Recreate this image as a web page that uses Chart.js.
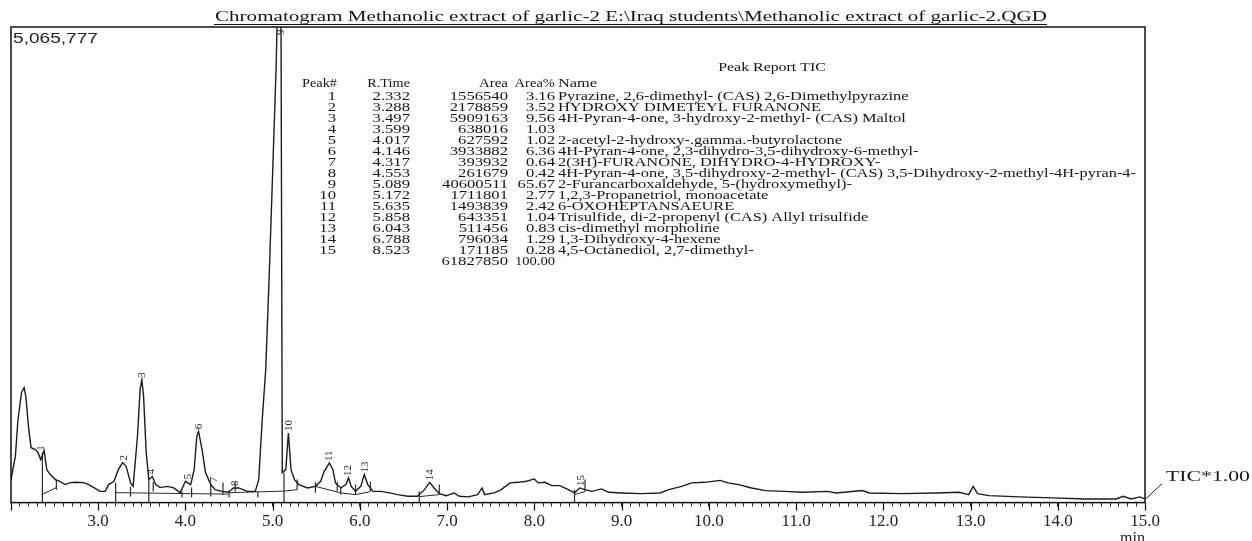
<!DOCTYPE html>
<html>
<head>
<meta charset="utf-8">
<title>Chromatogram Methanolic extract of garlic-2</title>
<script src="https://cdn.jsdelivr.net/npm/chart.js@4.4.1/dist/chart.umd.min.js"></script>
<style>
  html, body { margin: 0; padding: 0; background: #fff; }
  #wrap { width: 1252px; height: 541px; }
</style>
</head>
<body>
<div id="wrap"><canvas id="ticChart" width="1252" height="541"></canvas></div>
<script>
// -----------------------
// TIC trace
// -----------------------

// Retention time in minutes
const traceTime = [
  2.00, 2.05, 2.08, 2.12, 2.15, 2.17, 2.20, 2.23, 2.28, 2.31, 2.34, 2.38, 2.41, 2.45, 2.51, 2.56, 2.62, 2.68, 2.75, 2.83, 2.89, 2.95,
  3.02, 3.08, 3.12, 3.18, 3.23, 3.28, 3.32, 3.37, 3.40, 3.45, 3.48, 3.50, 3.52, 3.55, 3.58, 3.62, 3.66, 3.71, 3.79, 3.86, 3.94,
  4.00, 4.06, 4.10, 4.13, 4.15, 4.19, 4.23, 4.29, 4.34, 4.42, 4.49, 4.55, 4.61, 4.71, 4.80, 4.84, 4.88, 4.92, 4.96,
  5.00, 5.04, 5.09, 5.11, 5.15, 5.18, 5.21, 5.25, 5.30, 5.40, 5.49, 5.55, 5.59, 5.65, 5.69, 5.72, 5.78, 5.84, 5.87, 5.90, 5.95,
  6.01, 6.05, 6.09, 6.15, 6.24, 6.34, 6.43, 6.55, 6.66, 6.74, 6.80, 6.85, 6.91, 6.99,
  7.08, 7.14, 7.24, 7.35, 7.40, 7.43, 7.54, 7.62, 7.72, 7.81, 7.91,
  8.00, 8.04, 8.12, 8.20, 8.29, 8.39, 8.46, 8.52, 8.58, 8.66, 8.77, 8.85,
  9.00, 9.23, 9.44, 9.54, 9.69, 9.80, 9.95, 10.13, 10.22, 10.34, 10.49, 10.65, 10.87,
  11.07, 11.36, 11.46, 11.76, 11.84, 12.22, 12.60, 12.87, 12.98, 13.03, 13.08, 13.21, 13.56, 13.94,
  14.32, 14.67, 14.75, 14.84, 14.94, 15.00
];

// Detector signal (counts)
const traceSignal = [
  245000, 493000, 883000, 1171000, 1224000, 1131000, 812000, 585000, 564000, 532000, 458000, 553000, 351000, 298000, 245000, 227000, 192000, 213000, 216000, 213000, 192000, 160000,
  120000, 120000, 192000, 227000, 351000, 426000, 386000, 213000, 173000, 706000, 1203000, 1309000, 1131000, 532000, 245000, 277000, 192000, 160000, 173000, 160000, 106000,
  227000, 192000, 351000, 706000, 759000, 564000, 319000, 192000, 138000, 120000, 110000, 156000, 156000, 120000, 120000, 245000, 883000, 1415000, 2416000,
  3533000, 4651000, 6900000, 319000, 351000, 742000, 351000, 245000, 192000, 156000, 173000, 227000, 333000, 422000, 351000, 210000, 156000, 192000, 263000, 173000, 120000,
  173000, 298000, 192000, 120000, 120000, 103000, 85000, 67000, 67000, 138000, 216000, 156000, 96000, 74000,
  103000, 67000, 61000, 85000, 156000, 85000, 103000, 138000, 210000, 216000, 227000,
  252000, 210000, 216000, 181000, 181000, 138000, 103000, 156000, 138000, 120000, 146000, 110000,
  103000, 96000, 103000, 138000, 173000, 210000, 216000, 237000, 210000, 192000, 156000, 128000, 120000,
  110000, 120000, 103000, 128000, 103000, 96000, 103000, 110000, 85000, 173000, 96000, 74000, 61000, 50000,
  39000, 39000, 67000, 39000, 61000, 39000
];

// Integration baselines drawn under the peaks: [time, signal] runs
const baselineRuns = [
  [[2.35, 85000], [2.52, 160000]],
  [[3.20, 106000], [4.49, 90000]],
  [[4.50, 106000], [5.13, 122000], [5.28, 138000]],
  [[5.49, 173000], [5.78, 103000], [5.95, 85000], [6.12, 117000]],
  [[6.68, 64000], [6.91, 85000]],
  [[8.46, 85000], [8.58, 117000]]
];

// Peak start / end event marks
const eventTime   = [2.36, 2.52, 3.20, 3.37, 3.58, 3.63, 3.96, 4.07, 4.29, 4.43, 4.50, 4.57, 4.83, 5.13, 5.28, 5.49, 5.74, 5.78, 5.95, 6.12, 6.68, 6.91, 8.46, 8.58];
const eventTop    = [532000, 245000, 213000, 170000, 245000, 223000, 117000, 160000, 192000, 213000, 117000, 213000, 117000, 319000, 245000, 213000, 223000, 160000, 192000, 223000, 117000, 192000, 138000, 245000];
const eventBottom = [0, 138000, 0, 64000, 0, 117000, 53000, 53000, 64000, 85000, 53000, 117000, 53000, 0, 138000, 106000, 117000, 85000, 85000, 117000, 0, 85000, 0, 117000];

// -----------------------
// Peak Report TIC
// -----------------------
const peakNo = [1, 2, 3, 4, 5, 6, 7, 8, 9, 10, 11, 12, 13, 14, 15];
const peakTime = [2.332, 3.288, 3.497, 3.599, 4.017, 4.146, 4.317, 4.553, 5.089, 5.172, 5.635, 5.858, 6.043, 6.788, 8.523];
const peakArea = [1556540, 2178859, 5909163, 638016, 627592, 3933882, 393932, 261679, 40600511, 1711801, 1493839, 643351, 511456, 796034, 171185];
const peakAreaPct = ['3.16', '3.52', '9.56', '1.03', '1.02', '6.36', '0.64', '0.42', '65.67', '2.77', '2.42', '1.04', '0.83', '1.29', '0.28'];
const peakName = [
  'Pyrazine, 2,6-dimethyl- (CAS) 2,6-Dimethylpyrazine',
  'HYDROXY DIMETEYL FURANONE',
  '4H-Pyran-4-one, 3-hydroxy-2-methyl- (CAS) Maltol',
  '',
  '2-acetyl-2-hydroxy-.gamma.-butyrolactone',
  '4H-Pyran-4-one, 2,3-dihydro-3,5-dihydroxy-6-methyl-',
  '2(3H)-FURANONE, DIHYDRO-4-HYDROXY-',
  '4H-Pyran-4-one, 3,5-dihydroxy-2-methyl- (CAS) 3,5-Dihydroxy-2-methyl-4H-pyran-4-',
  '2-Furancarboxaldehyde, 5-(hydroxymethyl)-',
  '1,2,3-Propanetriol, monoacetate',
  '6-OXOHEPTANSAEURE',
  'Trisulfide, di-2-propenyl (CAS) Allyl trisulfide',
  'cis-dimethyl morpholine',
  '1,3-Dihydroxy-4-hexene',
  '4,5-Octanediol, 2,7-dimethyl-'
];
const totalArea = 61827850;
const totalAreaPct = '100.00';

// -----------------------
// Axes
// -----------------------
const signalMax = 5065777;
const timeMin = 2.0;
const timeMax = 15.0;
const tickValues = [2, 3, 4, 5, 6, 7, 8, 9, 10, 11, 12, 13, 14, 15];
const tickLabels = ['', '3.0', '4.0', '5.0', '6.0', '7.0', '8.0', '9.0', '10.0', '11.0', '12.0', '13.0', '14.0', '15.0'];

// minor ticks every 0.1 min
const minorTicks = [];
for (let k = timeMin * 10; k <= timeMax * 10; k++) minorTicks.push(k / 10);

const chartTitle = 'Chromatogram Methanolic extract of garlic-2 E:\\Iraq students\\Methanolic extract of garlic-2.QGD';

// -----------------------
// Helpers
// -----------------------
const SERIF = '"Liberation Serif", "Times New Roman", serif';

// draw text stretched horizontally (the print is wider than the font)
function stretchText(ctx, text, x, y, font, align, sx, color) {
  ctx.save();
  ctx.font = font;
  ctx.fillStyle = color || '#151515';
  ctx.textAlign = align;
  ctx.textBaseline = 'middle';
  ctx.translate(x, y);
  ctx.scale(sx, 1);
  ctx.fillText(text, 0, 0);
  ctx.restore();
}

function fitScale(ctx, text, font, width) {
  ctx.save();
  ctx.font = font;
  const w = ctx.measureText(text).width;
  ctx.restore();
  return w > 0 ? width / w : 1;
}

// highest point of the trace close to a retention time
function localPeak(t) {
  let best = 0;
  traceTime.forEach((tt, i) => {
    if (Math.abs(tt - t) <= 0.03 && traceSignal[i] > best) best = traceSignal[i];
  });
  return best;
}

// -----------------------
// Frame, peak numbers and report text
// -----------------------
const reportDecor = {
  id: 'reportDecor',
  afterDraw(chart) {
    const ctx = chart.ctx;
    const area = chart.chartArea;
    const xs = chart.scales.x;
    const ys = chart.scales.y;

    // frame round the plot
    ctx.save();
    ctx.strokeStyle = '#111';
    ctx.lineWidth = 1.5;
    ctx.strokeRect(area.left, area.top, area.right - area.left, area.bottom - area.top);

    // longer ticks on whole minutes
    ctx.lineWidth = 1.2;
    tickValues.forEach(v => {
      const px = Math.round(xs.getPixelForValue(v)) + 0.5;
      ctx.beginPath();
      ctx.moveTo(px, area.bottom);
      ctx.lineTo(px, area.bottom + 8);
      ctx.stroke();
    });
    ctx.restore();

    // peak numbers, rotated
    peakNo.forEach((n, i) => {
      const px = xs.getPixelForValue(peakTime[i]);
      let py = ys.getPixelForValue(Math.min(localPeak(peakTime[i]), signalMax)) - 2;
      py = Math.max(py, area.top + 2 + String(n).length * 6);
      ctx.save();
      ctx.font = '11px ' + SERIF;
      ctx.fillStyle = '#222';
      ctx.textAlign = 'left';
      ctx.textBaseline = 'middle';
      ctx.translate(px + 1, py);
      ctx.rotate(-Math.PI / 2);
      ctx.fillText(String(n), 0, 0);
      ctx.restore();
    });

    // title with underline
    const titleFont = '15px ' + SERIF;
    stretchText(ctx, chartTitle, 215, 17, titleFont, 'left', fitScale(ctx, chartTitle, titleFont, 832));
    ctx.save();
    ctx.strokeStyle = '#111';
    ctx.lineWidth = 1;
    ctx.beginPath();
    ctx.moveTo(214, 24.5);
    ctx.lineTo(1047, 24.5);
    ctx.stroke();
    ctx.restore();

    // full scale value
    const maxFont = '15px "Liberation Sans", Arial, sans-serif';
    const maxText = signalMax.toLocaleString('en-US');
    stretchText(ctx, maxText, 13, 39, maxFont, 'left', fitScale(ctx, maxText, maxFont, 85), '#222');

    // TIC marker on the right
    ctx.save();
    ctx.strokeStyle = '#222';
    ctx.lineWidth = 1;
    ctx.beginPath();
    ctx.moveTo(area.right + 1, area.bottom - 4);
    ctx.lineTo(area.right + 17, area.bottom - 19);
    ctx.stroke();
    ctx.restore();
    const ticFont = '15px ' + SERIF;
    stretchText(ctx, 'TIC*1.00', 1166, 477, ticFont, 'left', fitScale(ctx, 'TIC*1.00', ticFont, 84));

    // peak report table
    const tFont = '13px ' + SERIF;
    const numSx = 1.28;
    const nameSx = fitScale(ctx, peakName[7], tFont, 578);
    const rowY = i => 97 + i * 11;
    stretchText(ctx, 'Peak Report TIC', 772, 68, tFont, 'center', 1.22);
    stretchText(ctx, 'Peak#', 337, 84, tFont, 'right', 1.1);
    stretchText(ctx, 'R.Time', 410, 84, tFont, 'right', 1.1);
    stretchText(ctx, 'Area', 508, 84, tFont, 'right', 1.15);
    stretchText(ctx, 'Area%', 555, 84, tFont, 'right', 1.12);
    stretchText(ctx, 'Name', 558, 84, tFont, 'left', nameSx);
    peakNo.forEach((n, i) => {
      const y = rowY(i);
      stretchText(ctx, String(n), 336, y, tFont, 'right', numSx);
      stretchText(ctx, peakTime[i].toFixed(3), 410, y, tFont, 'right', numSx);
      stretchText(ctx, String(peakArea[i]), 508, y, tFont, 'right', numSx);
      stretchText(ctx, peakAreaPct[i], 555, y, tFont, 'right', numSx);
      if (peakName[i]) stretchText(ctx, peakName[i], 558, y, tFont, 'left', nameSx);
    });
    stretchText(ctx, String(totalArea), 508, rowY(15), tFont, 'right', numSx);
    stretchText(ctx, totalAreaPct, 555, rowY(15), tFont, 'right', 1.12);
  }
};

// -----------------------
// Datasets
// -----------------------
const tracePoints = traceTime.map((t, i) => ({ x: t, y: traceSignal[i] }));

const baselinePoints = [];
baselineRuns.forEach(run => {
  run.forEach(p => baselinePoints.push({ x: p[0], y: p[1] }));
  baselinePoints.push({ x: run[run.length - 1][0], y: null });
});

const eventPoints = [];
eventTime.forEach((t, i) => {
  eventPoints.push({ x: t, y: eventTop[i] });
  eventPoints.push({ x: t, y: eventBottom[i] });
  eventPoints.push({ x: t, y: null });
});

const ticConfig = {
  type: 'line',
  data: {
    datasets: [
      {
        label: 'TIC*1.00',
        data: tracePoints,
        borderColor: '#1c1c1c',
        borderWidth: 1.4,
        pointRadius: 0,
        tension: 0,
        fill: false
      },
      {
        label: 'baseline',
        data: baselinePoints,
        borderColor: '#2a2a2a',
        borderWidth: 1,
        pointRadius: 0,
        spanGaps: false
      },
      {
        label: 'events',
        data: eventPoints,
        borderColor: '#2a2a2a',
        borderWidth: 1.2,
        pointRadius: 0,
        spanGaps: false
      }
    ]
  },
  options: {
    responsive: false,
    animation: false,
    layout: {
      padding: { left: 11, right: 107, top: 27, bottom: -6 }
    },
    scales: {
      x: {
        type: 'linear',
        min: timeMin,
        max: timeMax,
        afterBuildTicks: scale => {
          scale.ticks = minorTicks.map(v => ({ value: v }));
        },
        border: { display: false },
        grid: {
          drawOnChartArea: false,
          drawTicks: true,
          tickLength: 4,
          tickColor: '#222',
          tickWidth: 1
        },
        ticks: {
          autoSkip: false,
          maxRotation: 0,
          minRotation: 0,
          padding: 5,
          color: '#222',
          font: { family: SERIF, size: 17 },
          callback: value => {
            const i = tickValues.indexOf(Math.round(value * 10) / 10);
            return i >= 0 ? tickLabels[i] : '';
          }
        },
        title: {
          display: true,
          text: 'min',
          align: 'end',
          color: '#222',
          font: { family: SERIF, size: 16, lineHeight: 1 },
          padding: { top: -6, bottom: 0 }
        }
      },
      y: {
        display: false,
        min: 0,
        max: signalMax
      }
    },
    plugins: {
      legend: { display: false },
      tooltip: { enabled: false },
      title: { display: false }
    }
  },
  plugins: [reportDecor]
};

// Render the chart
const ticChart = new Chart(
  document.getElementById('ticChart'),
  ticConfig
);
</script>
</body>
</html>
